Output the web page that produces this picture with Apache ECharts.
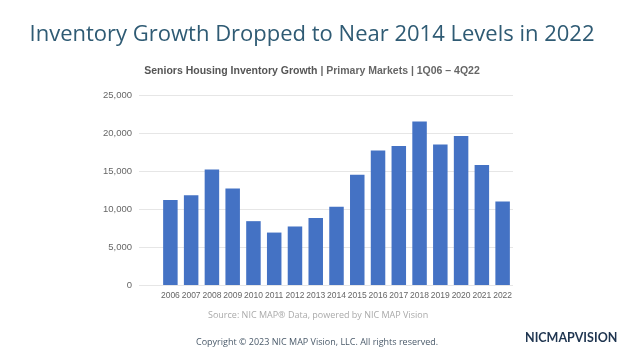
<!DOCTYPE html>
<html>
<head>
<meta charset="utf-8">
<script src="https://cdn.jsdelivr.net/npm/echarts@6/dist/echarts.min.js"></script>
<style>
  html, body { margin: 0; padding: 0; background: #fff; }
  #container { width: 624px; height: 351px; }
</style>
</head>
<body>
<div id="container"></div>
<script>
var years = ['2006','2007','2008','2009','2010','2011','2012','2013','2014',
             '2015','2016','2017','2018','2019','2020','2021','2022'];
var inventoryGrowth = [11200, 11800, 15200, 12700, 8400, 6900, 7700, 8800, 10300,
                       14500, 17700, 18300, 21500, 18500, 19600, 15800, 11000];
var yTicks = { min: 0, max: 25000, interval: 5000 };

var dom = document.getElementById("container");
var myChart = echarts.init(dom);
var option = {
    backgroundColor: '#fff',
    animation: false,
    title: [
        {
            text: 'Inventory Growth Dropped to Near 2014 Levels in 2022',
            left: 'center',
            top: 19,
            textStyle: { fontFamily: 'Open Sans', fontWeight: 'normal', fontSize: 22, color: '#2f5b74' }
        },
        {
            text: '{b|Seniors Housing Inventory Growth}{n| | Primary Markets | 1Q06 – 4Q22}',
            left: 'center',
            top: 61,
            textStyle: {
                rich: {
                    b: { fontFamily: 'Liberation Sans', fontWeight: 'bold', fontSize: 10.5, color: '#555' },
                    n: { fontFamily: 'Liberation Sans', fontSize: 10.5, color: '#666' }
                }
            }
        },
        {
            text: 'Source: NIC MAP® Data, powered by NIC MAP Vision',
            left: 203,
            top: 306,
            textStyle: { fontFamily: 'Open Sans', fontWeight: 'normal', fontSize: 9, color: '#aaa' }
        },
        {
            text: 'Copyright © 2023 NIC MAP Vision, LLC. All rights reserved.',
            left: 191,
            top: 333,
            textStyle: { fontFamily: 'Open Sans', fontWeight: 'normal', fontSize: 9, color: '#4a5a6a' }
        },
        {
            text: 'NICMAPVISION',
            left: 520,
            top: 326,
            textStyle: { fontFamily: 'Lato', fontWeight: 'bold', fontSize: 12.5, color: '#1f3550' }
        }
    ],
    grid: [
        { left: 139, right: 111, top: 95, bottom: 66 },
        { left: 160, right: 111, top: 95, bottom: 66 }
    ],
    xAxis: [
        { gridIndex: 0, type: 'category', data: years, show: false },
        {
            gridIndex: 1,
            type: 'category',
            data: years,
            axisLine: { show: false },
            axisTick: { show: false },
            axisLabel: { fontFamily: 'Liberation Sans', fontSize: 8.5, color: '#666', margin: 6, interval: 0 }
        }
    ],
    yAxis: [
        {
            gridIndex: 0,
            type: 'value',
            min: yTicks.min,
            max: yTicks.max,
            interval: yTicks.interval,
            axisLine: { show: false },
            axisTick: { show: false },
            axisLabel: {
                fontFamily: 'Liberation Sans', fontSize: 9.5, color: '#666', margin: 7,
                formatter: function (v) { return v.toLocaleString('en-US'); }
            },
            splitLine: { lineStyle: { color: '#e6e6e6' } }
        },
        {
            gridIndex: 1,
            type: 'value',
            min: yTicks.min,
            max: yTicks.max,
            interval: yTicks.interval,
            show: false
        }
    ],
    series: [
        {
            type: 'bar',
            xAxisIndex: 1,
            yAxisIndex: 1,
            data: inventoryGrowth,
            barWidth: 14.5,
            itemStyle: { color: '#4472c4' }
        }
    ]
};
myChart.setOption(option, true);
</script>
</body>
</html>
